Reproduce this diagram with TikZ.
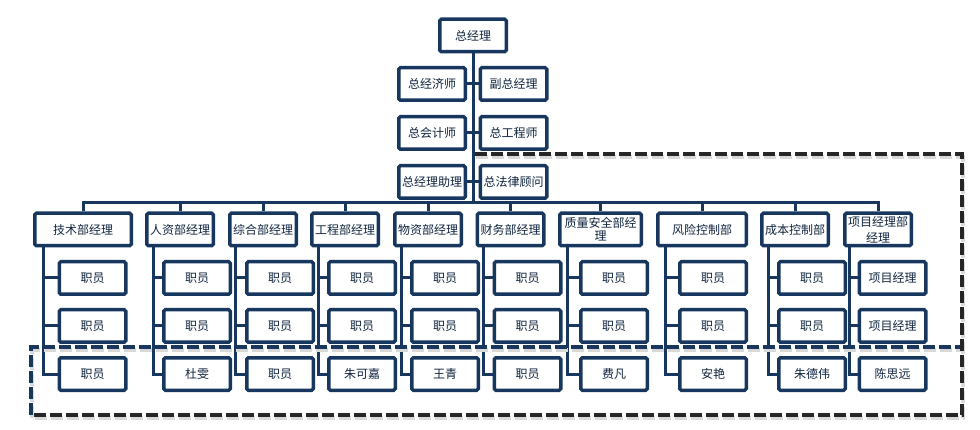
\documentclass[tikz,border=0pt]{standalone}
\usepackage{fontspec}
\newfontfamily\cjk{Noto Sans CJK SC}
\usetikzlibrary{positioning,backgrounds}
\definecolor{navy}{HTML}{17375E}
\definecolor{navytext}{HTML}{10243F}
\definecolor{dashgray}{HTML}{262626}

\begin{document}
\begin{tikzpicture}
[x=1pt,y=-1pt,node distance=12pt,
box/.style={shape=rectangle,draw=navy,line width=3.5pt,rounded corners=1.5pt,fill=white,text=navytext,font=\cjk\fontsize{12}{13}\selectfont,align=center,inner sep=0pt,minimum width=66.5pt,minimum height=32.5pt},
link/.style={draw=navy,line width=3pt},
dline/.style={line width=4pt,dash pattern=on 12pt off 4pt},
dshadow/.style={dline,draw=black!15,shift={(1,3)}}]

\useasboundingbox (0,0) rectangle (980,430);

\node (gm) [box] at (473,35.5) {总经理};
\node (econ) [box] at (432,84) {总经济师};
\node (vgm) [box] at (513.5,84) {副总经理};
\node (acct) [box,below=13pt of econ] {总会计师};
\node (engr) [box,below=13pt of vgm] {总工程师};
\node (asst) [box,below=13pt of acct] {总经理助理};
\node (law) [box,below=13pt of engr] {总法律顾问};
\coordinate (bus) at (473,203);

\node (d1) [box,minimum width=96.5pt] at (83,229.5) {技术部经理};
\node (d2) [box] at (180,229.5) {人资部经理};
\node (d3) [box] at (263,229.5) {综合部经理};
\node (d4) [box] at (345,229.5) {工程部经理};
\node (d5) [box] at (428,229.5) {物资部经理};
\node (d6) [box] at (510.5,229.5) {财务部经理};
\node (d7) [box,minimum width=81.5pt] at (600.5,229.5) {质量安全部经\\理};
\node (d8) [box,minimum width=88.5pt] at (702,229.5) {风险控制部};
\node (d9) [box] at (795,229.5) {成本控制部};
\node (d10) [box] at (878,229.5) {项目经理部\\[3pt]经理};

\node (s11) [box] at (92.5,278) {职员};
\node (s12) [box,below=of s11] {职员};
\node (s13) [box,below=of s12] {职员};
\node (s21) [box] at (197,278) {职员};
\node (s22) [box,below=of s21] {职员};
\node (s23) [box,below=of s22] {杜雯};
\node (s31) [box] at (280,278) {职员};
\node (s32) [box,below=of s31] {职员};
\node (s33) [box,below=of s32] {职员};
\node (s41) [box] at (362,278) {职员};
\node (s42) [box,below=of s41] {职员};
\node (s43) [box,below=of s42] {朱可嘉};
\node (s51) [box] at (445,278) {职员};
\node (s52) [box,below=of s51] {职员};
\node (s53) [box,below=of s52] {王青};
\node (s61) [box] at (527.5,278) {职员};
\node (s62) [box,below=of s61] {职员};
\node (s63) [box,below=of s62] {职员};
\node (s71) [box] at (614,278) {职员};
\node (s72) [box,below=of s71] {职员};
\node (s73) [box,below=of s72] {费凡};
\node (s81) [box] at (713,278) {职员};
\node (s82) [box,below=of s81] {职员};
\node (s83) [box,below=of s82] {安艳};
\node (s91) [box] at (812,278) {职员};
\node (s92) [box,below=of s91] {职员};
\node (s93) [box,below=of s92] {朱德伟};
\node (s101) [box] at (892.5,278) {项目经理};
\node (s102) [box,below=of s101] {项目经理};
\node (s103) [box,below=of s102] {陈思远};

\begin{scope}[on background layer]
\draw[link] (gm.south) -- (bus);
\draw[link] (econ.east) -- (vgm.west);
\draw[link] (acct.east) -- (engr.west);
\draw[link] (asst.east) -- (law.west);
\draw[link] (d1.north) |- (bus) -| (d10.north);
\draw[link] (d2.north) -- (d2.north |- bus);
\draw[link] (d3.north) -- (d3.north |- bus);
\draw[link] (d4.north) -- (d4.north |- bus);
\draw[link] (d5.north) -- (d5.north |- bus);
\draw[link] (d6.north) -- (d6.north |- bus);
\draw[link] (d7.north) -- (d7.north |- bus);
\draw[link] (d8.north) -- (d8.north |- bus);
\draw[link] (d9.north) -- (d9.north |- bus);

\draw[link] ([xshift=10pt]d1.south west) |- (s13.west);
\draw[link] ([xshift=10pt]d1.south west) |- (s11.west);
\draw[link] ([xshift=10pt]d1.south west) |- (s12.west);
\draw[link] ([xshift=8pt]d2.south west) |- (s23.west);
\draw[link] ([xshift=8pt]d2.south west) |- (s21.west);
\draw[link] ([xshift=8pt]d2.south west) |- (s22.west);
\draw[link] ([xshift=7pt]d3.south west) |- (s33.west);
\draw[link] ([xshift=7pt]d3.south west) |- (s31.west);
\draw[link] ([xshift=7pt]d3.south west) |- (s32.west);
\draw[link] ([xshift=8pt]d4.south west) |- (s43.west);
\draw[link] ([xshift=8pt]d4.south west) |- (s41.west);
\draw[link] ([xshift=8pt]d4.south west) |- (s42.west);
\draw[link] ([xshift=8pt]d5.south west) |- (s53.west);
\draw[link] ([xshift=8pt]d5.south west) |- (s51.west);
\draw[link] ([xshift=8pt]d5.south west) |- (s52.west);
\draw[link] ([xshift=8pt]d6.south west) |- (s63.west);
\draw[link] ([xshift=8pt]d6.south west) |- (s61.west);
\draw[link] ([xshift=8pt]d6.south west) |- (s62.west);
\draw[link] ([xshift=9pt]d7.south west) |- (s73.west);
\draw[link] ([xshift=9pt]d7.south west) |- (s71.west);
\draw[link] ([xshift=9pt]d7.south west) |- (s72.west);
\draw[link] ([xshift=9pt]d8.south west) |- (s83.west);
\draw[link] ([xshift=9pt]d8.south west) |- (s81.west);
\draw[link] ([xshift=9pt]d8.south west) |- (s82.west);
\draw[link] ([xshift=8pt]d9.south west) |- (s93.west);
\draw[link] ([xshift=8pt]d9.south west) |- (s91.west);
\draw[link] ([xshift=8pt]d9.south west) |- (s92.west);
\draw[link] ([xshift=6pt]d10.south west) |- (s103.west);
\draw[link] ([xshift=6pt]d10.south west) |- (s101.west);
\draw[link] ([xshift=6pt]d10.south west) |- (s102.west);
\end{scope}

\draw[dshadow] (31,415) -- (31,347) -- (960,347);
\draw[dshadow] (475,154.5) -- (962,154.5) -- (962,415) -- (31,415);
\draw[dline,draw=navy] (31,415) -- (31,347) -- (960,347);
\draw[dline,draw=dashgray] (475,154.5) -- (962,154.5) -- (962,415) -- (31,415);

\end{tikzpicture}
\end{document}
